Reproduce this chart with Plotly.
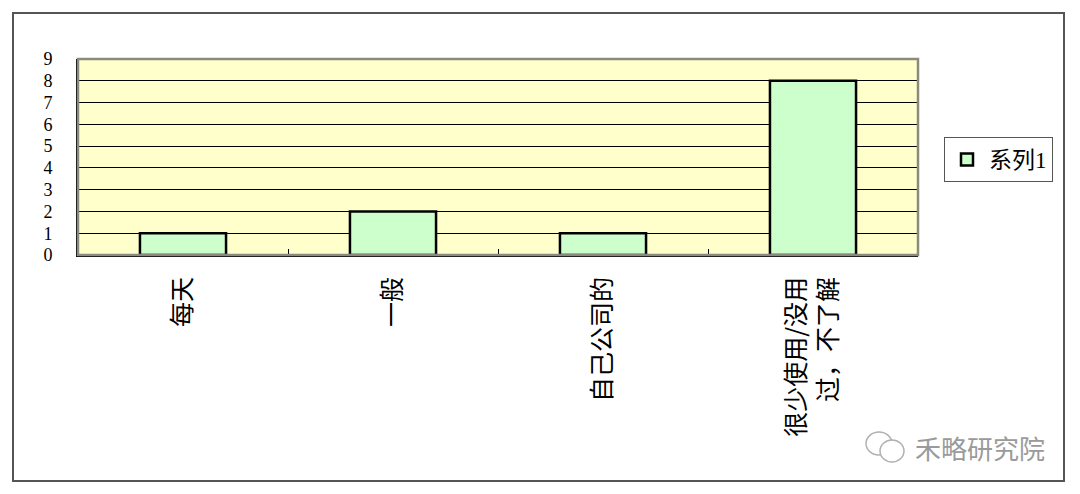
import plotly.graph_objects as go

categories = ["每天", "一般", "自己公司的", "很少使用/没用<br>过，不了解"]
values = [1, 2, 1, 8]
series_name = "系列1"
y_ticks = list(range(0, 10))

FONT = "Liberation Serif, Noto Sans CJK SC, serif"

L, R, T, B = 78, 162, 59, 239
W, H = 1080, 494
pw = W - L - R
ph = H - T - B

def px2x(px):
    return (px - L) / pw

def px2y(py):
    return (H - B - py) / ph

fig = go.Figure()
fig.add_trace(go.Bar(
    x=categories, y=values, name=series_name,
    marker=dict(color="#CCFFCC", line=dict(color="#000000", width=2.5)),
    showlegend=True,
))

shapes = [
    dict(type="rect", xref="paper", yref="paper", x0=0, x1=1, y0=0, y1=1,
         line=dict(color="#8a8a80", width=2.5), layer="above"),
    dict(type="rect", xref="paper", yref="paper",
         x0=px2x(13), x1=px2x(1064), y0=px2y(481), y1=px2y(13),
         line=dict(color="#555555", width=2)),
    dict(type="circle", xref="paper", yref="paper",
         x0=px2x(866), x1=px2x(892), y0=px2y(455), y1=px2y(432),
         line=dict(color="#b0b0b0", width=1.5)),
    dict(type="circle", xref="paper", yref="paper",
         x0=px2x(880), x1=px2x(904), y0=px2y(462), y1=px2y(440),
         line=dict(color="#b0b0b0", width=1.5), fillcolor="white"),
]

fig.update_layout(
    width=W, height=H,
    margin=dict(l=L, r=R, t=T, b=B, pad=0),
    paper_bgcolor="white",
    plot_bgcolor="#FFFFCC",
    bargap=0.59,
    font=dict(family=FONT, size=22, color="#000000"),
    shapes=shapes,
    showlegend=True,
    legend=dict(
        x=px2x(944), y=px2y(137), xanchor="left", yanchor="top",
        bgcolor="white", bordercolor="#555555", borderwidth=1,
        font=dict(family=FONT, size=23, color="#000000"),
        itemwidth=34,
    ),
    annotations=[dict(
        text="禾略研究院", xref="paper", yref="paper",
        x=px2x(913), y=px2y(447), xanchor="left", yanchor="middle",
        showarrow=False, font=dict(family="Noto Sans CJK SC", size=26, color="#9a9a9a"),
    )],
)

fig.update_xaxes(
    type="category",
    showline=True, linecolor="#000000", linewidth=2,
    ticks="inside", tickson="boundaries", ticklen=6, tickcolor="#000000", tickwidth=1,
    tickangle=-90,
    tickfont=dict(family="Noto Sans CJK SC", size=25, color="#000000"),
    showgrid=False,
    ticklabelstandoff=10,
)
fig.update_yaxes(
    range=[0, 9],
    tickvals=y_ticks, ticktext=[str(v) for v in y_ticks],
    showline=True, linecolor="#000000", linewidth=2,
    showgrid=True, gridcolor="#000000", gridwidth=1,
    ticks="", tickfont=dict(family="Liberation Serif", size=18, color="#000000"),
    ticklabelstandoff=20,
    zeroline=False,
)

fig.write_html("out.html", config={"displayModeBar": False},
               post_script="document.body.style.margin='0';")
